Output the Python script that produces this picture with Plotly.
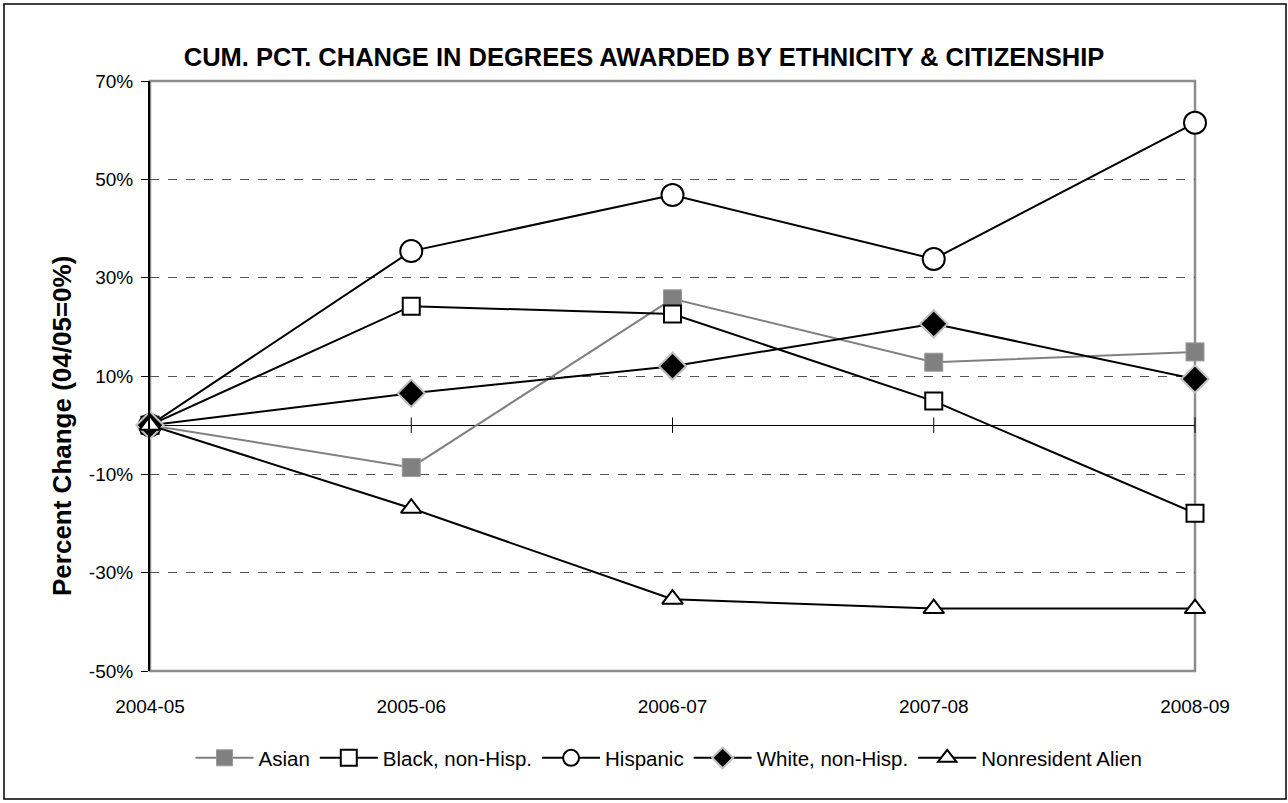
import plotly.graph_objects as go

years = ["2004-05", "2005-06", "2006-07", "2007-08", "2008-09"]
asian = [0, -8.6, 25.7, 12.8, 14.9]
black = [0, 24.2, 22.6, 4.9, -17.9]
hispanic = [0, 35.4, 46.8, 33.8, 61.5]
white = [0, 6.5, 12.0, 20.6, 9.4]
nonres = [0, -16.9, -35.4, -37.3, -37.3]

y_ticks = [-50, -30, -10, 10, 30, 50, 70]
y_labels = ["-50%", "-30%", "-10%", "10%", "30%", "50%", "70%"]

W, H = 1288, 803
L, R, T, B = 150, 93, 81, 132
pw, ph = W - L - R, H - T - B

def px_x(p):
    return (p - L) / pw

def px_y(p):
    return (H - B - p) / ph

FONT = "Liberation Sans, Arial, sans-serif"

series = [
    ("Asian", asian, "#808080", dict(symbol="square", size=18, color="#808080",
                                     line=dict(color="#999999", width=1))),
    ("Black, non-Hisp.", black, "black", dict(symbol="square", size=17, color="white",
                                              line=dict(color="black", width=2))),
    ("Hispanic", hispanic, "black", dict(symbol="circle", size=22, color="white",
                                         line=dict(color="black", width=2))),
    ("White, non-Hisp.", white, "black", dict(symbol="diamond", size=21, color="black",
                                              line=dict(color="#c0c0c0", width=2))),
    ("Nonresident Alien", nonres, "black", dict(symbol="triangle-up", size=18, color="white",
                                                line=dict(color="black", width=2))),
]

fig = go.Figure()
# tick marks on the zero line
fig.add_trace(go.Scatter(
    x=years, y=[0] * len(years), mode="markers", showlegend=False, hoverinfo="skip",
    marker=dict(symbol="line-ns-open", size=11, color="black", line=dict(color="black", width=1)),
    cliponaxis=False,
))
for name, vals, col, mk in series:
    fig.add_trace(go.Scatter(
        x=years, y=vals, mode="lines+markers", name=name,
        line=dict(color=col, width=2), marker=mk, cliponaxis=False,
        hovertemplate="%{x}: %{y:.1f}%<extra>" + name + "</extra>",
    ))

# gray plot border (top/right/bottom), drawn under the data
fig.add_shape(type="rect", xref="paper", yref="paper", x0=0, x1=1, y0=0, y1=1,
              line=dict(color="#8c8c8c", width=2.5), layer="between")
# outer frame
fig.add_shape(type="rect", xref="paper", yref="paper",
              x0=px_x(4), x1=px_x(1286), y0=px_y(799), y1=px_y(4),
              line=dict(color="black", width=1.5))

# y axis title, placed like the original (not centred on the plot)
fig.add_annotation(
    text="<b>Percent Change (04/05=0%)</b>", textangle=-90,
    xref="paper", yref="paper", x=px_x(62), y=px_y(426),
    xanchor="center", yanchor="middle", showarrow=False,
    font=dict(size=26, family=FONT),
)

fig.update_layout(
    width=W, height=H,
    margin=dict(l=L, r=R, t=T, b=B),
    paper_bgcolor="white", plot_bgcolor="white",
    font=dict(family=FONT, size=19, color="black"),
    title=dict(text="<b>CUM. PCT. CHANGE IN DEGREES AWARDED BY ETHNICITY &amp; CITIZENSHIP</b>",
               x=0.5, xref="container", y=1 - 57 / H, yanchor="middle",
               font=dict(size=25.5, family=FONT)),
    legend=dict(orientation="h", x=px_x(669), xanchor="center", y=px_y(758), yanchor="middle",
                font=dict(size=20.5), itemwidth=58, traceorder="normal"),
    showlegend=True,
)
fig.update_xaxes(
    type="category", range=[0, 4], showgrid=False, zeroline=False,
    showline=False, ticks="", ticklabelstandoff=22,
    tickfont=dict(size=19),
)
fig.update_yaxes(
    range=[-50, 70], tickvals=y_ticks, ticktext=y_labels,
    showgrid=True, gridcolor="#555555", griddash="dash", gridwidth=1,
    zeroline=True, zerolinecolor="black", zerolinewidth=1,
    showline=True, linecolor="black", linewidth=2,
    ticks="outside", ticklen=7, tickcolor="black", tickwidth=1,
    ticklabelstandoff=4, tickfont=dict(size=19),
)

fig.write_html("out.html", config={"displayModeBar": False},
               post_script="document.body.style.margin='0';")
